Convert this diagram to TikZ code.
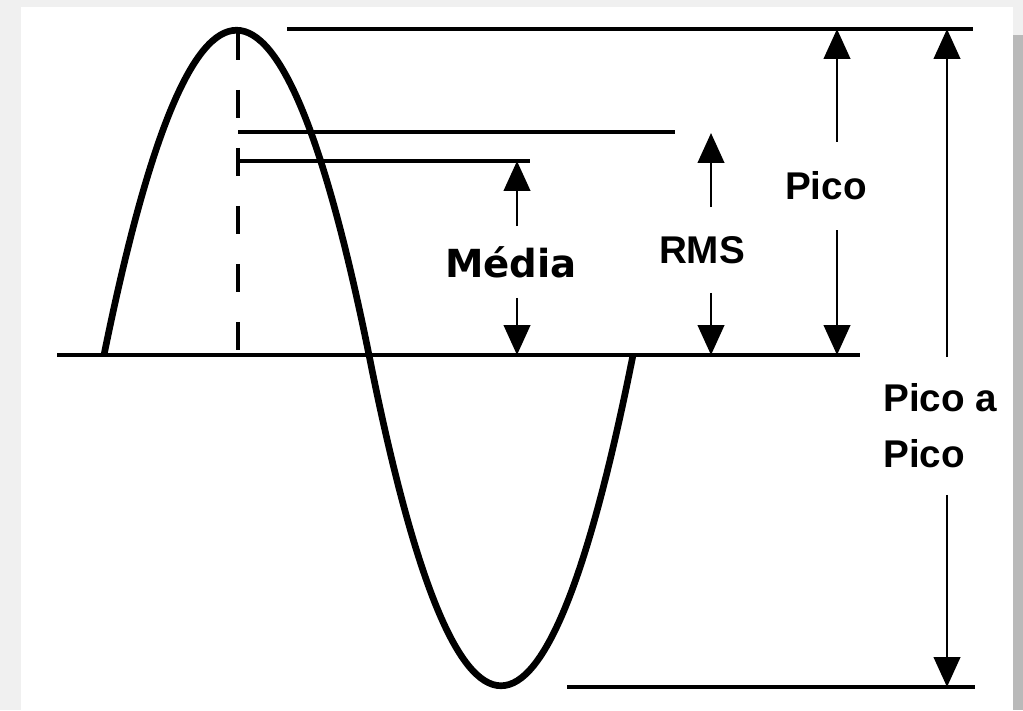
\documentclass[tikz,border=0pt]{standalone}
\usepackage{fontspec}
\setmainfont{Liberation Sans}
\newfontfamily\mediafont{DejaVu Sans}
\usetikzlibrary{arrows.meta}

\begin{document}
\begin{tikzpicture}[
x=0.02cm, y=-0.02cm,
level/.style={line width=2pt},
wave/.style={line width=3.8pt},
guide/.style={line width=2pt, dash pattern=on 16pt off 17pt},
dim/.style={line width=1.6pt, -{Triangle[width=15pt,length=17pt]}},
lbl/.style={font=\fontsize{22}{32}\selectfont\bfseries, inner sep=0pt, align=left}
]

\useasboundingbox (0,0) rectangle (1023,710);
\fill[gray!12] (0,0) rectangle (1023,710);
\fill[gray!55] (1013,35) rectangle (1023,710);
\fill[white] (21,7) rectangle (1013,710);

% lines
\coordinate (baseL) at (57,355);
\coordinate (baseR) at (860,355);
\coordinate (topL) at (287,29);
\coordinate (topR) at (973,29);
\coordinate (rmsL) at (238,132);
\coordinate (rmsR) at (675,132);
\coordinate (medL) at (238,161);
\coordinate (medR) at (530,161);
\coordinate (botL) at (567,687);
\coordinate (botR) at (975,687);

\draw[level] (baseL) -- (baseR);
\draw[level] (topL) -- (topR);
\draw[level] (rmsL) -- (rmsR);
\draw[level] (medL) -- (medR);
\draw[level] (botL) -- (botR);

% wave
\draw[wave] (104,355) .. controls (192,-78) and (281,-78) .. (369,355)
  .. controls (457,796) and (545,796) .. (633,355);
\draw[guide] (238,32) -- (238,355);

% labels
\node[lbl, font=\mediafont\fontsize{22}{26}\selectfont\bfseries,
  minimum height=1.42cm] (med) at (511,262) {Média};
\node[lbl, minimum height=1.7cm] (rms) at (702,250) {RMS};
\node[lbl, minimum height=1.76cm] (pk) at (826,186) {Pico};
\node[lbl, minimum height=2.74cm, anchor=west] (pp) at (883,426)
{Pico a\\Pico};

% arrows
\coordinate (medA) at (517,161);
\coordinate (rmsA) at (711,133);
\coordinate (pkA) at (837,29);
\coordinate (ppA) at (947,29);

\draw[dim] (med.north -| medA) -- (medA);
\draw[dim] (med.south -| medA) -- (medA |- baseL);
\draw[dim] (rms.north -| rmsA) -- (rmsA);
\draw[dim] (rms.south -| rmsA) -- (rmsA |- baseL);
\draw[dim] (pk.north -| pkA) -- (pkA);
\draw[dim] (pk.south -| pkA) -- (pkA |- baseL);
\draw[dim] (pp.north -| ppA) -- (ppA);
\draw[dim] (pp.south -| ppA) -- (ppA |- botL);

\end{tikzpicture}
\end{document}
